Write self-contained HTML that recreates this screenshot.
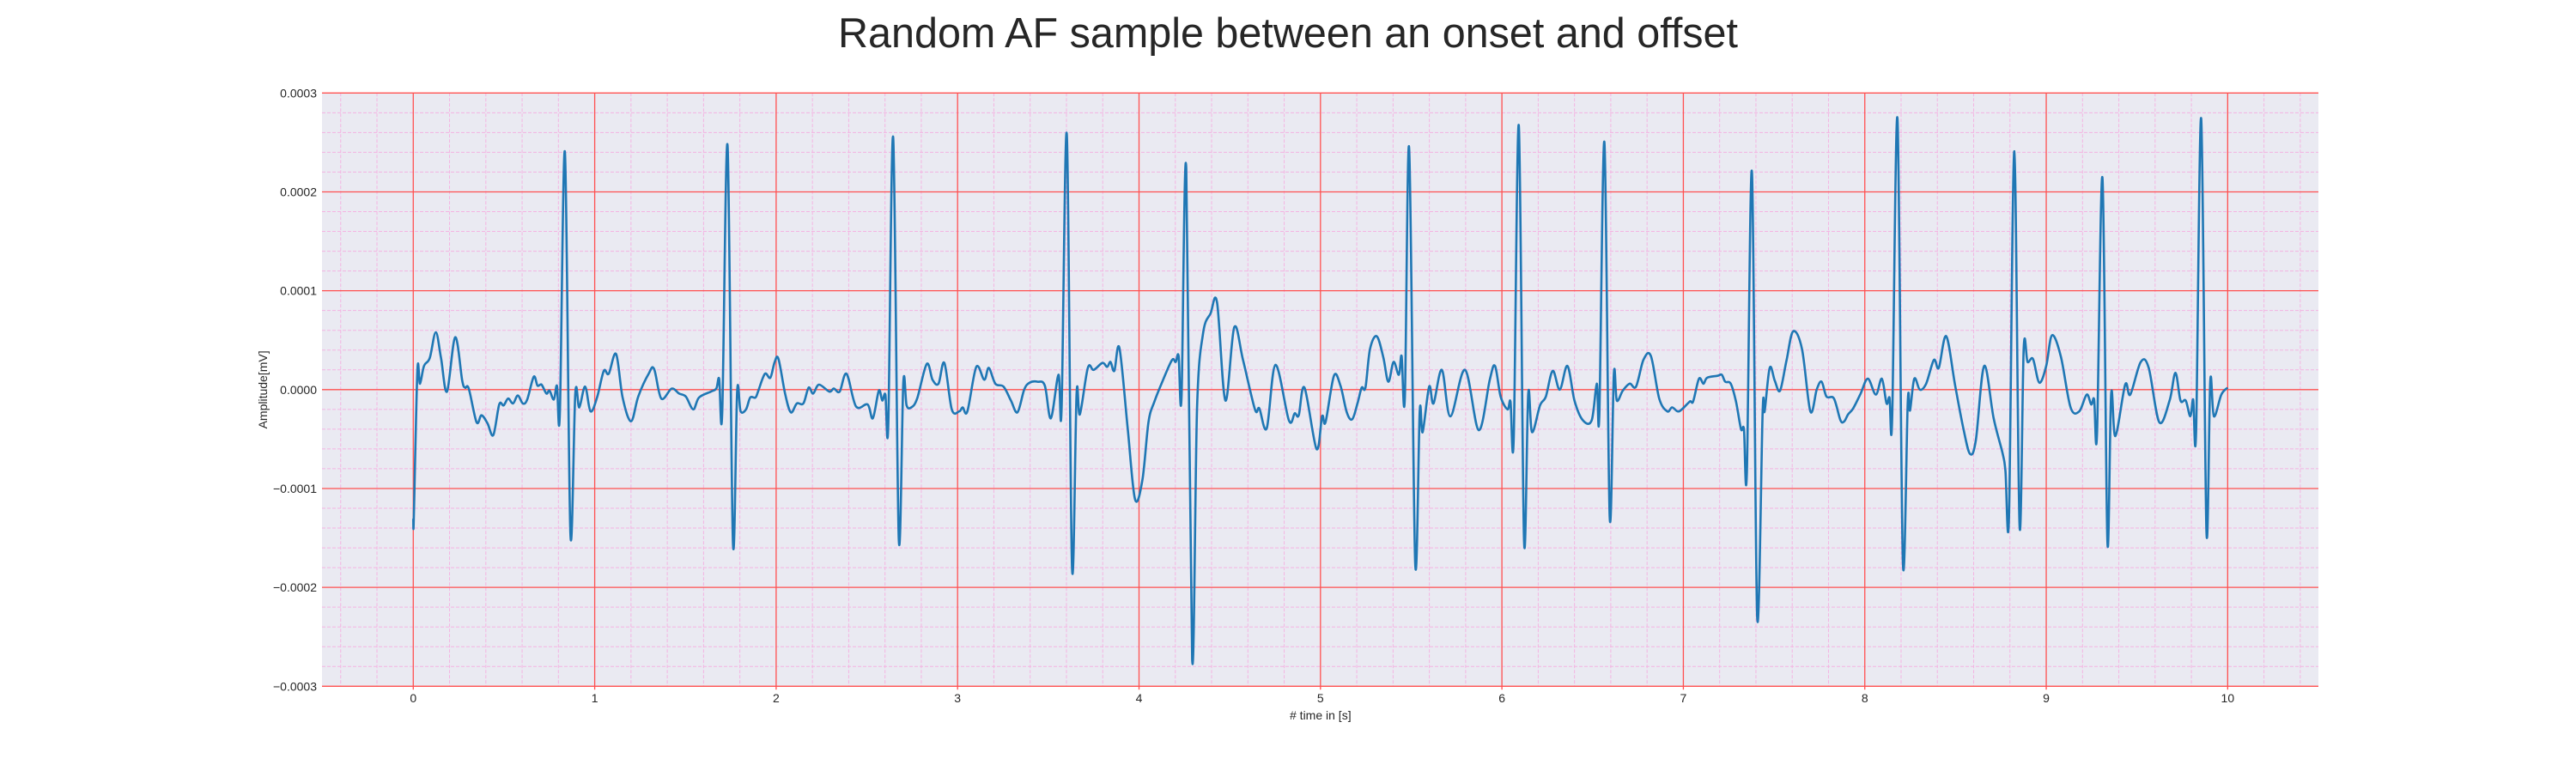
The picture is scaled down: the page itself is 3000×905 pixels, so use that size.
<!DOCTYPE html>
<html><head><meta charset="utf-8"><style>
body{margin:0;background:#fff;}
svg text{font-family:"Liberation Sans",Arial,sans-serif;fill:#262626;}
</style></head><body>
<svg id="chart" width="3000" height="900" viewBox="0 0 3000 900" xmlns="http://www.w3.org/2000/svg">
<text x="1500" y="55" text-anchor="middle" font-size="49" textLength="1048" lengthAdjust="spacingAndGlyphs">Random AF sample between an onset and offset</text>
<rect x="375" y="108.3" width="2325" height="691" fill="#EAEAF2"/>
<g id="grid"></g>
<g id="ticks"></g>
<path id="ecg" fill="none" stroke="#1f77b4" stroke-width="2.6" stroke-linejoin="round"/>
<text x="1537.8" y="838" text-anchor="middle" font-size="14"># time in [s]</text>
<text transform="translate(311,453.9) rotate(-90)" text-anchor="middle" font-size="14">Amplitude[mV]</text>
</svg>
<script>
const times=[0,0.003,0.023,0.037,0.059,0.091,0.124,0.153,0.186,0.231,0.27,0.286,0.306,0.349,0.376,0.409,0.441,0.474,0.498,0.523,0.55,0.576,0.604,0.628,0.664,0.685,0.707,0.734,0.751,0.775,0.792,0.808,0.836,0.866,0.893,0.915,0.947,0.977,1.013,1.05,1.077,1.118,1.154,1.2,1.24,1.297,1.327,1.367,1.424,1.465,1.502,1.543,1.575,1.641,1.67,1.686,1.703,1.732,1.762,1.785,1.804,1.834,1.857,1.886,1.902,1.938,1.968,1.992,2.013,2.049,2.081,2.114,2.15,2.179,2.204,2.236,2.293,2.318,2.35,2.388,2.44,2.504,2.533,2.566,2.585,2.602,2.618,2.645,2.676,2.701,2.719,2.745,2.777,2.83,2.862,2.895,2.927,2.968,3.009,3.028,3.054,3.103,3.147,3.172,3.208,3.253,3.294,3.33,3.367,3.397,3.441,3.481,3.514,3.556,3.573,3.602,3.631,3.656,3.674,3.718,3.75,3.799,3.824,3.843,3.864,3.892,3.938,3.978,4.019,4.052,4.085,4.133,4.182,4.202,4.218,4.234,4.26,4.293,4.32,4.353,4.394,4.43,4.476,4.525,4.573,4.639,4.663,4.704,4.752,4.826,4.858,4.88,4.912,4.978,5.009,5.028,5.074,5.11,5.145,5.175,5.204,5.227,5.248,5.273,5.31,5.346,5.374,5.403,5.432,5.447,5.465,5.489,5.522,5.547,5.563,5.599,5.623,5.669,5.716,5.797,5.872,5.933,5.962,5.993,6.031,6.047,6.065,6.093,6.122,6.145,6.166,6.21,6.242,6.28,6.319,6.361,6.4,6.446,6.495,6.523,6.537,6.565,6.594,6.617,6.633,6.666,6.704,6.739,6.78,6.821,6.867,6.911,6.938,6.968,6.992,7.036,7.054,7.086,7.111,7.131,7.188,7.212,7.231,7.261,7.29,7.318,7.334,7.35,7.378,7.407,7.437,7.448,7.476,7.504,7.533,7.569,7.605,7.654,7.7,7.735,7.762,7.789,7.83,7.866,7.887,7.908,7.936,7.977,8.017,8.061,8.094,8.12,8.136,8.151,8.18,8.21,8.237,8.249,8.273,8.303,8.338,8.381,8.408,8.449,8.498,8.544,8.58,8.612,8.658,8.71,8.759,8.775,8.795,8.824,8.853,8.876,8.897,8.927,8.962,9.0,9.032,9.081,9.134,9.182,9.223,9.248,9.264,9.28,9.31,9.337,9.358,9.381,9.435,9.463,9.521,9.565,9.623,9.68,9.712,9.74,9.769,9.794,9.81,9.826,9.854,9.883,9.904,9.924,9.965,10.0];
const amplitudes=[-13,-13,1.9,0.6,2.4,3.2,5.8,3.2,-0.2,5.3,0.9,0.2,0.1,-3.3,-2.6,-3.4,-4.6,-1.5,-1.6,-0.9,-1.4,-0.6,-1.4,-1,1.3,0.4,0.5,-0.4,-0.1,-1,0.4,-2.4,24,-14.6,-0.4,-1.8,0.3,-2.2,-0.8,1.9,1.6,3.6,-0.8,-3.2,-0.7,1.6,2.1,-0.9,0.1,-0.4,-0.7,-2,-0.8,-0.2,0.1,1.1,-2.3,24.7,-15.5,-0.2,-2.2,-2,-0.8,-0.8,-0.1,1.6,1.2,2.8,3.1,-0.4,-2.3,-1.4,-1.4,0.2,-0.4,0.5,-0.2,0.1,-0.2,1.6,-1.7,-1.5,-2.9,-0.1,-1.1,-0.5,-3.5,25.5,-15.1,0.7,-1.6,-1.8,-0.9,2.6,1,0.6,2.7,-2,-2.2,-1.8,-2.2,2.3,1,2.2,0.6,0.3,-1.1,-2.3,0,0.7,0.8,0.4,-2.9,1.5,-2,25.8,-18,-0.4,-2.5,2.2,2,2.7,2.3,2.8,1.9,4.2,-4,-11.1,-9.1,-3.3,-1.2,1,3,2.8,3.4,-0.8,22.4,-27.3,-1.8,5.7,7.7,8.8,-1.1,6.3,3,-2,-1.9,-3.9,2.5,-3.1,-2.4,-2.6,0.2,-6,-2.7,-3.3,1.4,0.4,-2.3,-3,-1.4,0.2,0.2,4.1,5.4,3.3,0.8,2.8,1.5,3.4,-0.8,24.4,-17.5,-2.2,-4.3,0.3,-1.4,2,-2.7,2,-4.1,1,2.4,-0.7,-2,-1.2,-4.9,26.7,-15.3,-0.4,-4.3,-1.6,-0.7,1.9,0,2.4,-1.1,-3.1,-3.1,0.6,-2.5,25,-12.8,1.6,-1.1,-0.1,0.6,0.3,3,3.4,-0.9,-2.2,-1.8,-2.2,-2,-1.2,-1.2,1.1,0.6,1.2,1.4,1.5,0.8,0.6,-1.2,-4,-4,-8.4,22,-23,-2.2,-2.2,2.2,0.9,-0.1,3,5.9,4.1,-2.2,0,0.8,-0.7,-0.9,-3.1,-3.2,-2.5,-1.9,-0.4,1.1,-0.5,1.1,-1.4,-0.8,-2.9,27.4,-17.5,-1.2,-2.1,1.1,0,0.6,3,2.2,5.4,0.4,-4,-6.5,-5.1,2.4,-2.9,-6.4,-8.2,-12.7,24.1,-13.8,4.2,2.8,3.1,0.7,2.4,5.5,3.3,-1.8,-2.2,-0.5,-1.5,-1,-4.4,21.4,-15.4,-0.4,-4.7,0.5,-0.5,2.8,2.2,-3.3,-1.1,1.7,-1.1,-1.1,-2.7,-1,-4.2,27.4,-14.3,0.9,-2.7,-0.5,0.2];
const xTickLabels=["0","1","2","3","4","5","6","7","8","9","10"];
const yTickLabels=["−0.0003","−0.0002","−0.0001","0.0000","0.0001","0.0002","0.0003"];
const yTickValues=[-30,-20,-10,0,10,20,30];

const L=375,R=2700,T=108.3,B=799.3,XMIN=-0.503,XMAX=10.5,YMIN=-30,YMAX=30;
function xs(t){return L+(t-XMIN)/(XMAX-XMIN)*(R-L);}
function ys(v){return B-(v-YMIN)/(YMAX-YMIN)*(B-T);}
const NS="http://www.w3.org/2000/svg";
const grid=document.getElementById('grid'),ticks=document.getElementById('ticks');
function line(x1,y1,x2,y2,stroke,w,dash,parent){const l=document.createElementNS(NS,'line');l.setAttribute('x1',x1);l.setAttribute('y1',y1);l.setAttribute('x2',x2);l.setAttribute('y2',y2);l.setAttribute('stroke',stroke);l.setAttribute('stroke-width',w);if(dash)l.setAttribute('stroke-dasharray',dash);parent.appendChild(l);return l;}
for(let k=-2;k<=52;k++){const t=k*0.2;if(t<XMIN||t>XMAX)continue;if(k%5===0)continue;
const g=line(xs(t),T,xs(t),B,'#f4b4e2',1,'4,2',grid);

}
for(let v=-30;v<=30;v+=2){if(v%10===0)continue;
const g=line(L,ys(v),R,ys(v),'#f4b4e2',1,'4,2',grid);

}
xTickLabels.forEach(function(lab){const t=parseFloat(lab);
const g=line(xs(t),T,xs(t),B+4,'#ff5050',1.3,null,grid);


const tx=document.createElementNS(NS,'text');tx.setAttribute('x',xs(t));tx.setAttribute('y',818);tx.setAttribute('text-anchor','middle');tx.setAttribute('font-size','14');tx.textContent=lab;


ticks.appendChild(tx);});
yTickValues.forEach(function(v,i){
const g=line(L,ys(v),R,ys(v),'#ff5050',1.3,null,grid);


const tx=document.createElementNS(NS,'text');tx.setAttribute('x',369);tx.setAttribute('y',ys(v)+5);tx.setAttribute('text-anchor','end');tx.setAttribute('font-size','14');tx.textContent=yTickLabels[i];


ticks.appendChild(tx);});
// smooth signal path (Catmull-Rom)
const P=times.map(function(t,i){return [xs(t),ys(amplitudes[i])];});
let d='M'+P[0][0].toFixed(1)+','+P[0][1].toFixed(1);
for(let i=0;i<P.length-1;i++){
const p0=P[Math.max(0,i-1)],p1=P[i],p2=P[i+1],p3=P[Math.min(P.length-1,i+2)];
const k=1/6;
let c1x=p1[0]+(p2[0]-p0[0])*k,c1y=p1[1]+(p2[1]-p0[1])*k;
let c2x=p2[0]-(p3[0]-p1[0])*k,c2y=p2[1]-(p3[1]-p1[1])*k;
c1x=Math.min(Math.max(c1x,p1[0]),p2[0]);c2x=Math.min(Math.max(c2x,p1[0]),p2[0]);
d+=' C'+c1x.toFixed(1)+','+c1y.toFixed(1)+' '+c2x.toFixed(1)+','+c2y.toFixed(1)+' '+p2[0].toFixed(1)+','+p2[1].toFixed(1);
}
document.getElementById('ecg').setAttribute('d',d);
</script>
</body></html>
